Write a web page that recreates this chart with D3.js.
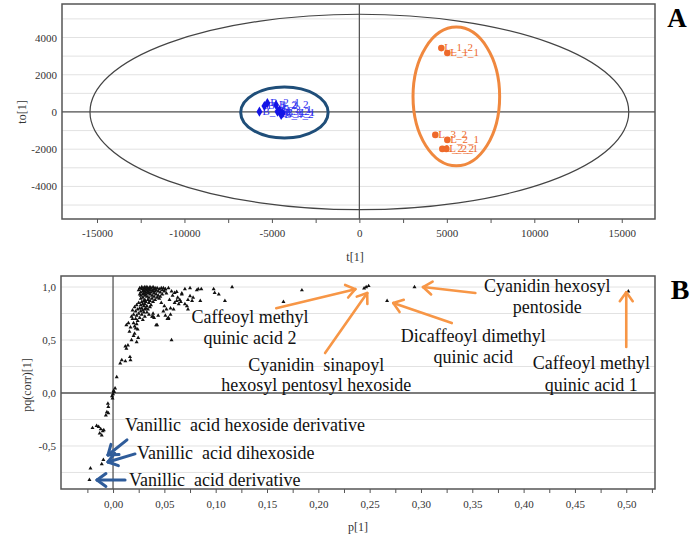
<!DOCTYPE html>
<html><head><meta charset="utf-8">
<script src="https://cdn.jsdelivr.net/npm/d3@7"></script>
<style>
html,body{margin:0;padding:0;background:#fff;}
svg{display:block;}
text{font-family:"Liberation Serif","Times New Roman",serif !important;}
</style></head>
<body><svg id="chart" width="692" height="540"></svg>
<script>
// ---------- Panel A data (score plot) ----------
const xTicksA = [-15000,-12500,-10000,-7500,-5000,-2500,0,2500,5000,7500,10000,12500,15000];
const yTicksA = [-4000,-2000,0,2000,4000];
const yGridA = [-5000,-4000,-3000,-2000,-1000,0,1000,2000,3000,4000,5000];
const blueT  = [-5714,-5430,-5260,-4760,-4570,-4680,-4380,-4470];
const blueTo = [16,320,480,375,100,16,-70,-160];
const blueNames = ["B_1_1","B_1_2","B_2_1","B_2_2","B_3_1","B_3_2","B_4_1","B_4_2"];
const orangeT  = [4686,5029,4343,5029,4743,4971];
const orangeTo = [3431,3164,-1233,-1500,-1984,-1984];
const orangeNames = ["L_1_2","L_1_1","L_3_2","L_2_1","L_2_2","L_2_1"];
const hotelling = [0,0,15400,5250];        // cx, cy, rx, ry
const blueGroup = [-4285,-30,2500,1370];
const orangeGroup = [5543,831,2476,3727];

// ---------- Panel B data (S-plot loadings) ----------
const xTicksB = [-0.025,0,0.025,0.05,0.075,0.1,0.125,0.15,0.175,0.2,0.225,0.25,0.275,0.3,0.325,0.35,0.375,0.4,0.425,0.45,0.475,0.5,0.525];
const xLabelsB = [0,0.05,0.1,0.15,0.2,0.25,0.3,0.35,0.4,0.45,0.5];
const yTicksB = [-0.5,0,0.5,1];
const yGridB = [-0.75,-0.5,-0.25,0,0.25,0.5,0.75,1];
const loadings = [
 [0.025,0.97],[0.026,0.99],[0.027,0.95],[0.027,0.92],[0.028,0.98],[0.028,1.0],[0.029,0.96],[0.029,0.93],[0.029,0.90],[0.030,0.99],
 [0.030,0.97],[0.030,0.94],[0.031,1.0],[0.031,0.96],[0.031,0.92],[0.031,0.88],[0.032,0.98],[0.032,0.95],[0.032,0.93],[0.033,1.0],
 [0.033,0.97],[0.033,0.91],[0.034,0.99],[0.034,0.96],[0.034,0.94],[0.035,0.98],[0.035,0.95],[0.035,0.90],[0.036,1.0],[0.036,0.97],
 [0.036,0.93],[0.037,0.99],[0.037,0.95],[0.038,0.97],[0.038,0.92],[0.039,1.0],[0.039,0.96],[0.040,0.98],[0.040,0.94],[0.041,0.99],
 [0.041,0.96],[0.042,0.97],[0.042,0.93],[0.043,0.99],[0.044,0.96],[0.045,0.98],[0.046,0.95],[0.047,0.99],[0.048,0.97],[0.049,0.99],
 [0.026,0.93],[0.027,0.89],[0.028,0.86],[0.029,0.84],[0.030,0.87],[0.031,0.84],[0.032,0.86],[0.033,0.82],[0.034,0.88],[0.035,0.85],
 [0.036,0.87],[0.037,0.83],[0.038,0.89],[0.039,0.86],[0.040,0.91],[0.041,0.88],[0.043,0.90],[0.044,0.92],[0.045,0.89],[0.046,0.91],
 [0.048,0.93],[0.050,0.96],[0.051,0.98],[0.052,0.94],
 [0.019,0.78],[0.020,0.74],[0.021,0.81],[0.022,0.77],[0.022,0.70],[0.023,0.83],[0.023,0.73],[0.024,0.79],[0.024,0.68],[0.025,0.85],
 [0.025,0.75],[0.026,0.80],[0.026,0.71],[0.027,0.83],[0.027,0.77],[0.028,0.80],[0.028,0.74],[0.029,0.78],[0.029,0.69],[0.030,0.82],
 [0.030,0.76],[0.031,0.79],[0.031,0.72],[0.032,0.80],[0.033,0.76],[0.034,0.79],[0.035,0.74],[0.036,0.81],[0.038,0.72],[0.039,0.75],
 [0.040,0.71],[0.042,0.64],[0.044,0.73],[0.020,0.66],[0.021,0.63],[0.023,0.65],[0.022,0.61],[0.024,0.60],[0.019,0.70],[0.018,0.72],
 [0.013,0.64],[0.015,0.66],[0.017,0.62],[0.021,0.56],[0.016,0.58],[0.018,0.50],[0.020,0.54],[0.023,0.48],[0.0245,0.52],[0.012,0.44],
 [0.013,0.42],[0.0145,0.45],[0.007,0.28],[0.0085,0.31],[0.012,0.30],[0.0165,0.34],[0.017,0.31],[0.0036,0.15],[0.002,0.044],[0.001,0.012],
 [0.0,-0.01],[-0.001,-0.03],[0.0005,0.02],[-0.0005,-0.05],
 [-0.005,-0.10],[-0.0046,-0.13],[-0.006,-0.18],[-0.0046,-0.19],[-0.007,-0.21],[-0.020,-0.33],[-0.016,-0.31],[-0.014,-0.32],[-0.012,-0.34],
 [-0.010,-0.36],[-0.013,-0.38],[-0.009,-0.35],[-0.011,-0.40],[-0.0094,-0.63],[-0.011,-0.67],[-0.022,-0.71],[-0.023,-0.82],
 [0.0507,0.978],[0.054,0.99],[0.057,0.96],[0.060,0.946],[0.062,0.87],[0.060,0.85],[0.064,0.84],[0.065,0.88],[0.070,0.98],[0.067,0.93],
 [0.075,0.915],[0.073,0.88],[0.077,0.87],[0.078,0.90],[0.083,0.98],[0.086,0.98],[0.085,0.87],[0.098,0.98],[0.099,0.946],[0.103,0.93],
 [0.109,0.87],[0.116,1.0],[0.049,0.77],[0.052,0.79],[0.056,0.80],[0.059,0.79],[0.051,0.73],[0.054,0.71],[0.073,0.79],[0.057,0.50],
 [0.053,0.70],[0.056,0.74],[0.054,0.70],[0.043,0.64],[0.039,0.72],[0.062,0.955],[0.067,0.94],[0.075,0.99],[0.0816,0.97],[0.063,0.90],
 [0.066,0.86],[0.070,0.84],[0.072,0.82],[0.055,0.88],[0.058,0.92],[0.047,0.85],[0.050,0.82],
 [0.166,0.86],[0.184,0.97],[0.2446,0.988],[0.2466,1.0],[0.249,1.01],[0.267,0.87],[0.2937,1.0],[0.502,0.96]
];
const orangeNotes = [
 {lines:["Caffeoyl methyl","quinic acid 2"], p:0.1335, r:[0.717,0.519], from:[0.159,0.80], to:[0.236,0.98]},
 {lines:["Cyanidin  sinapoyl","hexosyl pentosyl hexoside"], p:0.198, r:[0.264,0.075], from:[0.2066,0.377], to:[0.2476,0.943]},
 {lines:["Cyanidin hexosyl","pentoside"], p:0.423, r:[1.009,0.811], from:[0.353,0.943], to:[0.302,1.0]},
 {lines:["Dicaffeoyl dimethyl","quinic acid"], p:0.351, r:[0.538,0.34], from:[0.330,0.66], to:[0.273,0.849]},
 {lines:["Caffeoyl methyl","quinic acid 1"], p:0.466, r:[0.283,0.075], from:[0.5,0.434], to:[0.5,0.95]}
];
const blueNotes = [
 {text:"Vanillic  acid hexoside derivative", p:0.0117, r:-0.302},
 {text:"Vanillic  acid dihexoside", p:0.0234, r:-0.566},
 {text:"Vanillic  acid derivative", p:0.0155, r:-0.821}
];
const blueArrows = [
 {from:[0.0136,-0.443], to:[-0.0049,-0.585]},
 {from:[0.0214,-0.575], to:[-0.0049,-0.651]},
 {from:[0.0117,-0.821], to:[-0.0156,-0.821]}
];

const svg = d3.select("#chart");
const fmtB = d3.formatLocale({decimal:",", thousands:".", grouping:[3], currency:["",""], minus:"-"});
const SERIF = "'Liberation Serif','Times New Roman',serif";

function frame(g, x, y){
  const [x0,x1] = x.range(), [y0,y1] = y.range();
  g.append("rect").attr("x",x0).attr("y",y1).attr("width",x1-x0).attr("height",y0-y1)
   .attr("fill","none").attr("stroke","#555").attr("stroke-width",1.5);
}
function arrow(g, p0, p1, color, w){
  g.append("line").attr("x1",p0[0]).attr("y1",p0[1]).attr("x2",p1[0]).attr("y2",p1[1])
   .attr("stroke",color).attr("stroke-width",w).attr("stroke-linecap","round");
  const a = Math.atan2(p1[1]-p0[1], p1[0]-p0[0]), L = 11;
  [Math.PI*0.8, -Math.PI*0.8].forEach(da=>{
    g.append("line").attr("x1",p1[0]).attr("y1",p1[1])
     .attr("x2",p1[0]+L*Math.cos(a+da)).attr("y2",p1[1]+L*Math.sin(a+da))
     .attr("stroke",color).attr("stroke-width",w).attr("stroke-linecap","round");
  });
}
function styleAxis(ax){
  ax.attr("font-family",SERIF);
  ax.select(".domain").remove();
  ax.selectAll("line").attr("stroke","#555");
  ax.selectAll("text").attr("font-size",11).attr("fill","#333").style("font-family",SERIF);
}

// ================= Panel A =================
{
  const x = d3.scaleLinear().domain([-17000,16900]).range([62,655]);
  const y = d3.scaleLinear().domain([-5750,5800]).range([219,4]);
  const g = svg.append("g");
  g.selectAll(".gA").data(yGridA).join("line")
   .attr("x1",x.range()[0]).attr("x2",x.range()[1]).attr("y1",d=>y(d)).attr("y2",d=>y(d))
   .attr("stroke","#e2e2e2").attr("stroke-width",1);
  g.append("line").attr("x1",x(0)).attr("x2",x(0)).attr("y1",y.range()[1]).attr("y2",y.range()[0]).attr("stroke","#555").attr("stroke-width",1.3);
  g.append("line").attr("x1",x.range()[0]).attr("x2",x.range()[1]).attr("y1",y(0)).attr("y2",y(0)).attr("stroke","#555").attr("stroke-width",1.3);
  g.append("ellipse").attr("cx",x(hotelling[0])).attr("cy",y(hotelling[1]))
   .attr("rx",x(hotelling[2])-x(0)).attr("ry",y(0)-y(hotelling[3]))
   .attr("fill","none").attr("stroke","#444").attr("stroke-width",1.2);
  g.append("ellipse").attr("cx",x(blueGroup[0])).attr("cy",y(blueGroup[1]))
   .attr("rx",x(blueGroup[2])-x(0)).attr("ry",y(0)-y(blueGroup[3]))
   .attr("fill","none").attr("stroke","#1F4E79").attr("stroke-width",3);
  g.append("ellipse").attr("cx",x(orangeGroup[0])).attr("cy",y(orangeGroup[1]))
   .attr("rx",x(orangeGroup[2])-x(0)).attr("ry",y(0)-y(orangeGroup[3]))
   .attr("fill","none").attr("stroke","#F0883E").attr("stroke-width",3);
  blueT.forEach((t,i)=>{
    g.append("text").attr("x",x(t)+3).attr("y",y(blueTo[i])+3).attr("font-size",11)
     .attr("fill","#2b2bf0").text(blueNames[i]);
  });
  blueT.forEach((t,i)=>{
    g.append("path").attr("d",d3.symbol(d3.symbolDiamond,30)())
     .attr("transform",`translate(${x(t)},${y(blueTo[i])})`).attr("fill","#1414e6");
  });
  orangeT.forEach((t,i)=>{
    g.append("text").attr("x",x(t)+3).attr("y",y(orangeTo[i])+3).attr("font-size",11)
     .attr("fill","#EE6A2B").text(orangeNames[i]);
  });
  orangeT.forEach((t,i)=>{
    g.append("circle").attr("cx",x(t)).attr("cy",y(orangeTo[i])).attr("r",3.3).attr("fill","#EE6A2B");
  });
  frame(g,x,y);
  const ax = g.append("g").attr("transform",`translate(0,${y.range()[0]})`)
   .call(d3.axisBottom(x).tickValues(xTicksA).tickSize(4).tickPadding(6)
     .tickFormat(d=> d%5000===0 ? String(d) : ""));
  styleAxis(ax);
  const ay = g.append("g").attr("transform",`translate(${x.range()[0]},0)`)
   .call(d3.axisLeft(y).tickValues(yTicksA).tickSize(0).tickPadding(5).tickFormat(d=>String(d)));
  styleAxis(ay);
  g.append("text").attr("x",355).attr("y",261).attr("text-anchor","middle").attr("font-size",12).attr("fill","#333").text("t[1]");
  g.append("text").attr("transform","translate(26,112) rotate(-90)").attr("text-anchor","middle").attr("font-size",12).attr("fill","#333").text("to[1]");
  g.append("text").attr("x",677).attr("y",27).attr("text-anchor","middle").attr("font-size",27).attr("font-weight","bold").attr("fill","#000").text("A");
}

// ================= Panel B =================
{
  const x = d3.scaleLinear().domain([-0.0507,0.528]).range([61,655]);
  const y = d3.scaleLinear().domain([-0.906,1.104]).range([489,276]);
  const g = svg.append("g");
  g.selectAll(".gB").data(yGridB).join("line")
   .attr("x1",x.range()[0]).attr("x2",x.range()[1]).attr("y1",d=>y(d)).attr("y2",d=>y(d))
   .attr("stroke","#e2e2e2").attr("stroke-width",1);
  g.append("line").attr("x1",x(0)).attr("x2",x(0)).attr("y1",y.range()[1]).attr("y2",y.range()[0]).attr("stroke","#555").attr("stroke-width",1.3);
  g.append("line").attr("x1",x.range()[0]).attr("x2",x.range()[1]).attr("y1",y(0)).attr("y2",y(0)).attr("stroke","#555").attr("stroke-width",1.3);
  g.selectAll(".pt").data(loadings).join("path")
   .attr("d",d3.symbol(d3.symbolTriangle,7)())
   .attr("transform",d=>`translate(${x(d[0])},${y(d[1])})`).attr("fill","#111");
  frame(g,x,y);
  const ax = g.append("g").attr("transform",`translate(0,${y.range()[0]})`)
   .call(d3.axisBottom(x).tickValues(xTicksB).tickSize(4).tickPadding(7)
     .tickFormat(d=> xLabelsB.some(v=>Math.abs(v-d)<1e-9) ? fmtB.format(".2f")(d) : ""));
  styleAxis(ax);
  const ay = g.append("g").attr("transform",`translate(${x.range()[0]},0)`)
   .call(d3.axisLeft(y).tickValues(yTicksB).tickSize(0).tickPadding(5).tickFormat(fmtB.format(".1f")));
  styleAxis(ay);
  g.append("text").attr("x",358).attr("y",531).attr("text-anchor","middle").attr("font-size",12).attr("fill","#333").text("p[1]");
  g.append("text").attr("transform","translate(31,385) rotate(-90)").attr("text-anchor","middle").attr("font-size",12).attr("fill","#333").text("pq(corr)[1]");
  g.append("text").attr("x",680).attr("y",299).attr("text-anchor","middle").attr("font-size",28).attr("font-weight","bold").attr("fill","#000").text("B");
  orangeNotes.forEach(n=>{
    n.lines.forEach((s,i)=>{
      g.append("text").attr("x",x(n.p)).attr("y",y(n.r[i])+6).attr("text-anchor","middle")
       .attr("font-size",18).attr("fill","#111").attr("xml:space","preserve").style("white-space","pre").text(s);
    });
    arrow(g,[x(n.from[0]),y(n.from[1])],[x(n.to[0]),y(n.to[1])],"#F79646",2.6);
  });
  blueNotes.forEach(n=>{
    g.append("text").attr("x",x(n.p)).attr("y",y(n.r)+6).attr("font-size",18).attr("fill","#111")
     .attr("xml:space","preserve").style("white-space","pre").text(n.text);
  });
  blueArrows.forEach(a=> arrow(g,[x(a.from[0]),y(a.from[1])],[x(a.to[0]),y(a.to[1])],"#2F5C9A",3));
}
</script></body></html>
